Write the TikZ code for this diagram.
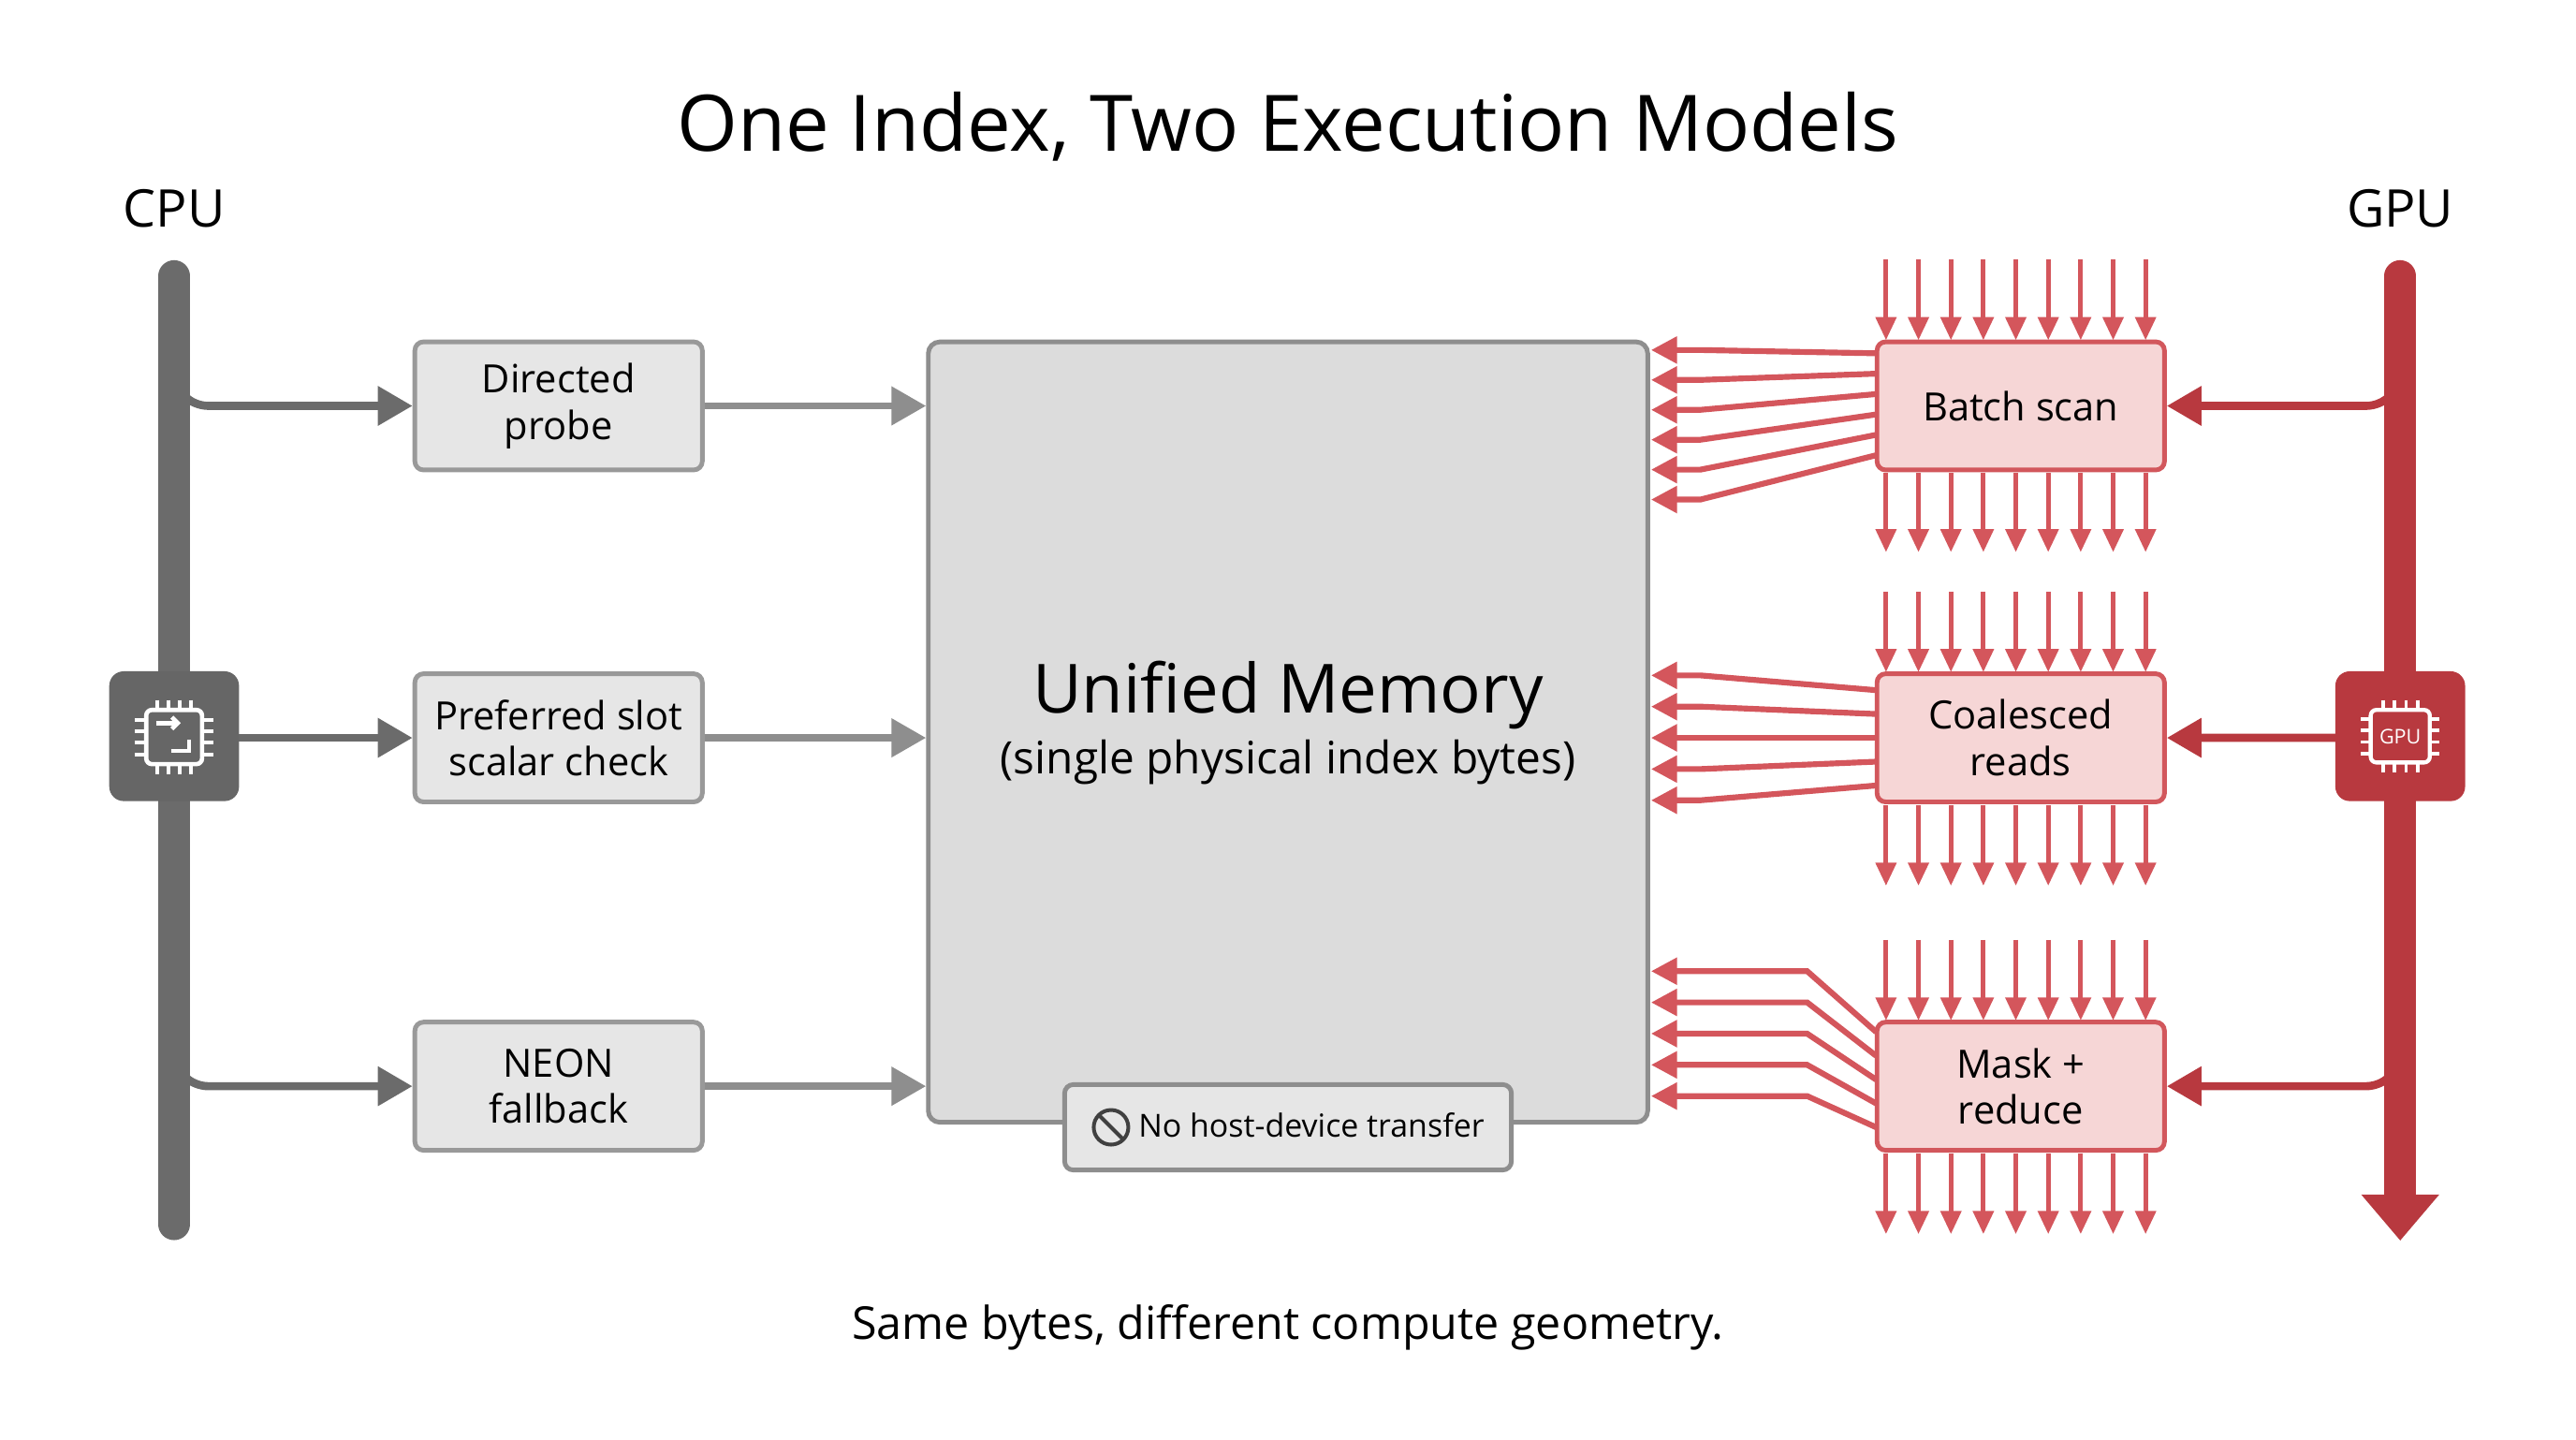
\documentclass[tikz,border=0pt]{standalone}
\usepackage{fontspec}
\setmainfont{Open Sans}
\usetikzlibrary{arrows.meta}
\definecolor{cgray}{HTML}{6B6B6B}
\definecolor{agray}{HTML}{8E8E8E}
\definecolor{bfill}{HTML}{E6E6E6}
\definecolor{bdraw}{HTML}{999999}
\definecolor{mfill}{HTML}{DCDCDC}
\definecolor{gred}{HTML}{B8393F}
\definecolor{ared}{HTML}{D4565C}
\definecolor{rfill}{HTML}{F6D6D6}
\definecolor{rdraw}{HTML}{D2575C}
\begin{document}
\begin{tikzpicture}[x=0.02cm,y=-0.02cm,
  lbox/.style={draw=bdraw,fill=bfill,line width=1.6pt,rounded corners=3pt,minimum width=3.5cm,minimum height=1.56cm,align=center,font=\fontsize{13.5}{16}\selectfont},
  rbox/.style={draw=rdraw,fill=rfill,line width=1.6pt,rounded corners=3pt,minimum width=3.5cm,minimum height=1.56cm,align=center,font=\fontsize{13.5}{16}\selectfont},
  garr/.style={draw=agray,line width=2.4pt,-{Triangle[length=12pt,width=13pt]}},
  cbr/.style={draw=cgray,line width=2.8pt,rounded corners=12pt,-{Triangle[length=12pt,width=13pt]}},
  gbr/.style={draw=gred,line width=2.8pt,rounded corners=12pt,-{Triangle[length=12pt,width=13pt]}},
  rarr/.style={draw=ared,line width=1.6pt,-{Triangle[length=8pt,width=7pt]}},
  larr/.style={draw=ared,line width=2pt,-{Triangle[length=9pt,width=9pt]}},
]
\useasboundingbox[fill=white] (0,0) rectangle (1568,876);
\node[font=\fontsize{27}{32}\selectfont] (title) at (784,77) {One Index, Two Execution Models};
\node[font=\fontsize{18}{20}\selectfont] (cpul) at (106,127) {CPU};
\node[font=\fontsize{18}{20}\selectfont] (gpul) at (1461,127) {GPU};
% CPU bar
\coordinate (ct) at (106,168); \coordinate (cb) at (106,745);
\draw[cgray,line width=11pt,line cap=round] (ct) -- (cb);
% left boxes
\node[lbox] (b1) at (340,247) {Directed\\probe};
\node[lbox] (b2) at (340,449) {Preferred slot\\scalar check};
\node[lbox] (b3) at (340,661) {NEON\\fallback};
\draw[cbr] (106,200) |- (b1.west);
\draw[cbr] (106,449) -- (b2.west);
\draw[cbr] (106,610) |- (b3.west);
% memory
\node[draw=agray,fill=mfill,line width=1.6pt,rounded corners=4pt,minimum width=8.76cm,minimum height=9.5cm] (mem) at (784,445.5) {};
\node[font=\fontsize{23.5}{28}\selectfont] (um) at (784,423) {Unified Memory};
\node[font=\fontsize{15.5}{18}\selectfont] (sp) at (784,464) {(single physical index bytes)};
\draw[garr] (b1.east) -- (b1.east -| mem.west);
\draw[garr] (b2.east) -- (b2.east -| mem.west);
\draw[garr] (b3.east) -- (b3.east -| mem.west);
\node[draw=agray,fill=bfill,line width=1.6pt,rounded corners=3pt,minimum width=5.44cm,minimum height=1.04cm,font=\fontsize{11}{13}\selectfont] (nh) at (784,686) {\tikz[baseline=-3.5pt]{\draw[black!75,line width=1.3pt] (0,0) circle (6pt); \draw[black!75,line width=1.3pt] (-4.2pt,4.2pt)--(4.2pt,-4.2pt);}\ No host-device transfer};
% CPU icon
\node[fill=cgray!95!black,rounded corners=5pt,minimum size=1.58cm] (cpui) at (106,448) {};
\draw[white,line width=1.5pt,rounded corners=2pt] (89,432) rectangle (123,465);
\foreach \d in {-10.5,-3.5,3.5,10.5}{
  \draw[white,line width=1.3pt] (106+\d,426) -- (106+\d,432) (106+\d,465) -- (106+\d,471);
  \draw[white,line width=1.3pt] (82,448.5+\d) -- (89,448.5+\d) (123,448.5+\d) -- (130,448.5+\d);}
\draw[white,line width=1.5pt,-{Straight Barb[length=2pt,width=4pt]}] (95,440) -- (110,440);
\draw[white,line width=1.5pt] (104,457) -- (115,457) -- (115,450);
% GPU bar
\coordinate (gt) at (1461,168); \coordinate (gb) at (1461,755);
\draw[gred,line width=11pt,line cap=round] (gt) -- (1461,720);
\draw[gred,line width=11pt,-{Triangle[length=16pt,width=26pt]}] (1461,715) -- (gb);
% right boxes
\node[rbox] (r1) at (1230,247) {Batch scan};
\node[rbox] (r2) at (1230,449) {Coalesced\\reads};
\node[rbox] (r3) at (1230,661) {Mask +\\reduce};
\draw[gbr] (1461,200) |- (r1.east);
\draw[gbr] (1461,400) |- (r2.east);
\draw[gbr] (1461,610) |- (r3.east);
% GPU icon
\node[fill=gred,rounded corners=5pt,minimum size=1.58cm] (gpui) at (1461,448) {};
\draw[white,line width=1.4pt,rounded corners=2pt] (1443,432) rectangle (1479,464);
\foreach \d in {-10.5,-3.5,3.5,10.5}{
  \draw[white,line width=1.2pt] (1461+\d,426) -- (1461+\d,432) (1461+\d,464) -- (1461+\d,470);
  \draw[white,line width=1.2pt] (1437,448+\d) -- (1443,448+\d) (1479,448+\d) -- (1485,448+\d);}
\node[white,font=\fontsize{7}{8}\selectfont] (gput) at (1461,448) {GPU};
% vertical arrow arrays
\foreach \i in {0,...,8}{
  \pgfmathsetmacro\xx{1148+19.75*\i}
  \draw[rarr] (\xx,158) -- (\xx,207);
  \draw[rarr] (\xx,288) -- (\xx,336);
  \draw[rarr] (\xx,360) -- (\xx,409);
  \draw[rarr] (\xx,490) -- (\xx,539);
  \draw[rarr] (\xx,572) -- (\xx,621);
  \draw[rarr] (\xx,702) -- (\xx,751);
}
% fan arrows to memory
\foreach \i in {0,...,5}{
  \pgfmathsetmacro\ys{215+12.4*\i}
  \pgfmathsetmacro\ye{213+18.2*\i}
  \draw[larr] (1142,\ys) -- (1035,\ye) -- (1005,\ye);
}
\foreach \i in {0,...,4}{
  \pgfmathsetmacro\ys{420+14.5*\i}
  \pgfmathsetmacro\ye{411+19*\i}
  \draw[larr] (1142,\ys) -- (1035,\ye) -- (1005,\ye);
}
\foreach \i in {0,...,4}{
  \pgfmathsetmacro\ys{628+14.5*\i}
  \pgfmathsetmacro\ye{591+19*\i}
  \draw[larr] (1142,\ys) -- (1100,\ye) -- (1005,\ye);
}
\node[font=\fontsize{15.7}{18}\selectfont] (cap) at (784,808) {Same bytes, different compute geometry.};
\end{tikzpicture}
\end{document}
